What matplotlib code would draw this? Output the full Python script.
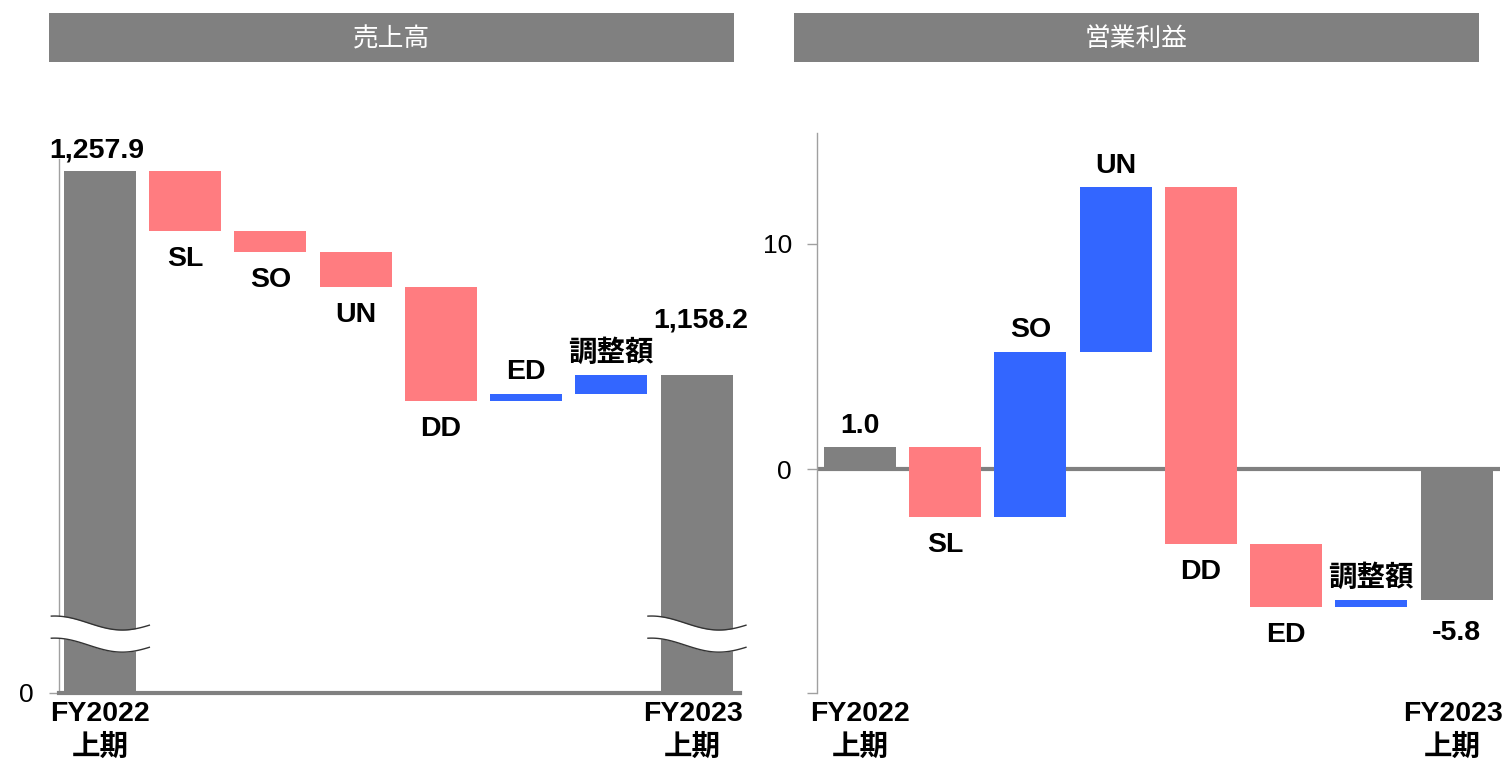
import matplotlib
matplotlib.use('Agg')
import matplotlib.pyplot as plt
from matplotlib.patches import Rectangle
from matplotlib.transforms import ScaledTranslation
import numpy as np

plt.rcParams['font.family'] = ['Liberation Sans', 'Noto Sans CJK JP']

# ---------------- data ----------------
step_labels = ['SL', 'SO', 'UN', 'DD', 'ED', '調整額']
period_labels = ['FY2022\n上期', 'FY2023\n上期']
panel_titles = ['売上高', '営業利益']

sales_start = 1257.9
sales_deltas = [-29.3, -10.3, -17.1, -55.7, 3.4, 9.3]
sales_end = 1158.2

op_start = 1.0
op_deltas = [-3.1, 7.3, 7.3, -15.8, -2.8, 0.3]
op_end = -5.8

# ---------------- style ----------------
GRAY = '#808080'
NEG = '#FF7C80'
POS = '#3366FF'
W_PX, H_PX = 1503, 764
BAR_W = 0.845
LBL_FS = 20.5
TICK_FS = 19

fig = plt.figure(figsize=(W_PX / 100, H_PX / 100), dpi=100)


def fx(px):
    return px / W_PX


def fy(py):
    return 1 - py / H_PX


# header boxes
for (x0, x1), title in zip([(49, 734), (794, 1479)], panel_titles):
    fig.add_artist(Rectangle((fx(x0), fy(62)), fx(x1 - x0), 49 / H_PX,
                             transform=fig.transFigure, color=GRAY, lw=0))
    fig.text(fx((x0 + x1) / 2), fy(39), title, color='white', fontsize=18.5,
             ha='center', va='center')


def waterfall(ax, start, deltas, end):
    n = len(deltas)
    ax.bar(0, start, bottom=0, width=BAR_W, color=GRAY, zorder=3)
    cum = start
    for i, d in enumerate(deltas, start=1):
        ax.bar(i, d, bottom=cum, width=BAR_W, color=NEG if d < 0 else POS,
               zorder=3)
        new = cum + d
        if d < 0:
            ax.annotate(step_labels[i - 1], xy=(i, new), xytext=(0, -11),
                        textcoords='offset points', ha='center', va='top',
                        fontsize=LBL_FS, fontweight='bold')
        else:
            ax.annotate(step_labels[i - 1], xy=(i, new), xytext=(0, 10.5),
                        textcoords='offset points', ha='center',
                        va='baseline', fontsize=LBL_FS, fontweight='bold')
        cum = new
    ax.bar(n + 1, end, bottom=0, width=BAR_W, color=GRAY, zorder=3)
    return n + 1


def style_axes(ax):
    for s in ['top', 'right', 'bottom']:
        ax.spines[s].set_visible(False)
    ax.spines['left'].set_color('#A0A0A0')
    ax.spines['left'].set_linewidth(1)
    ax.tick_params(axis='y', length=7, color='#A0A0A0', width=1,
                   labelsize=TICK_FS, pad=11)
    ax.tick_params(axis='x', length=0, pad=6)
    ax.set_xticks([0, len(step_labels) + 1])
    labels = ax.set_xticklabels(period_labels, fontsize=LBL_FS,
                                fontweight='bold', linespacing=1.3)
    labels[-1].set_transform(labels[-1].get_transform() +
                             ScaledTranslation(-4 / 100, 0,
                                               fig.dpi_scale_trans))


# ---------------- left panel: sales (broken axis) ----------------
axL = fig.add_axes([fx(59), 71 / H_PX, fx(681), 534 / H_PX])
yb = 1002.8
axL.set_ylim(yb, yb + 534 / 2.046)
axL.set_xlim(-0.48, 7.51)
last = waterfall(axL, sales_start, sales_deltas, sales_end)
style_axes(axL)
axL.set_yticks([yb])
axL.set_yticklabels(['0'])
axL.axhline(yb, color=GRAY, lw=3, zorder=4, clip_on=False)
axL.annotate(f'{sales_start:,.1f}', xy=(0, sales_start), xytext=(-2, 9.5),
             textcoords='offset points', ha='center', va='baseline',
             fontsize=LBL_FS, fontweight='bold')
axL.annotate(f'{sales_end:,.1f}', xy=(last, sales_end), xytext=(3, 34),
             textcoords='offset points', ha='center', va='baseline',
             fontsize=LBL_FS, fontweight='bold')

# break marks
t = np.linspace(0, 1, 80)
theta = np.pi * (-0.05 + 1.45 * t)
amp = 7 / 2.046
for idx in (0, last):
    xs = idx - 0.57 + 1.15 * t
    up = 1037.0 + amp * np.cos(theta)
    lo = 1026.2 + amp * np.cos(theta)
    axL.fill_between(xs, lo, up, color='white', zorder=6, clip_on=False,
                     lw=0)
    axL.plot(xs, up, color='#333333', lw=1, zorder=7, clip_on=False)
    axL.plot(xs, lo, color='#333333', lw=1, zorder=7, clip_on=False)

# ---------------- right panel: operating profit ----------------
axR = fig.add_axes([fx(817), 71 / H_PX, fx(683), 560 / H_PX])
axR.set_ylim(-9.9, 14.9)
axR.set_xlim(-0.505, 7.51)
last = waterfall(axR, op_start, op_deltas, op_end)
style_axes(axR)
axR.set_yticks([-9.9, 0, 10])
axR.set_yticklabels(['', '0', '10'])
axR.axhline(0, color=GRAY, lw=3, zorder=2)
axR.annotate(f'{op_start:.1f}', xy=(0, op_start), xytext=(0, 10),
             textcoords='offset points', ha='center', va='baseline',
             fontsize=LBL_FS, fontweight='bold')
axR.annotate(f'{op_end:.1f}', xy=(last, op_end), xytext=(0, -14),
             textcoords='offset points', ha='center', va='top',
             fontsize=LBL_FS, fontweight='bold')

fig.savefig('out.png', dpi=100)
